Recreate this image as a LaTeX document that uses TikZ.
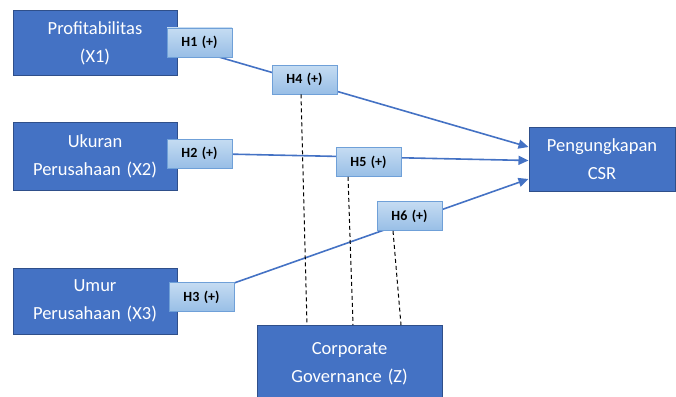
\documentclass[tikz,border=0pt]{standalone}
\usepackage{fontspec}
\setmainfont{Carlito}[WordSpace=1.4]
\usetikzlibrary{arrows.meta,calc}
\definecolor{boxblue}{HTML}{4472C4}
\definecolor{boxedge}{HTML}{2F4F8A}
\definecolor{hfillA}{HTML}{C5DCF2}
\definecolor{hfillB}{HTML}{98BEE6}
\definecolor{hedge}{HTML}{6FA0D8}
\begin{document}
\begin{tikzpicture}[x=1pt,y=-1pt,
 var/.style={draw=boxedge, fill=boxblue, line width=1pt, text=white,
   font=\fontsize{18.5}{28}\selectfont, align=center,
   minimum width=164pt, minimum height=65pt, inner sep=0pt},
 hyp/.style={draw=hedge, top color=hfillA, bottom color=hfillB, line width=0.8pt,
   font=\fontsize{14}{16}\selectfont\bfseries,
   minimum width=65pt, minimum height=29pt, inner sep=0pt},
 link/.style={draw=boxblue, line width=1.6pt},
 arr/.style={link, -{Triangle[length=10pt,width=9pt]}},
 moder/.style={line width=1pt, dash pattern=on 4pt off 3pt}
]
\useasboundingbox (0,0) rectangle (676,396);
% variable boxes
\node[var] (x1) at (95,43) {Profitabilitas\\(X1)};
\node[var, minimum height=68pt] (x2) at (95,156) {Ukuran\\Perusahaan (X2)};
\node[var, minimum height=66pt] (x3) at (95,301) {Umur\\Perusahaan (X3)};
\node[var, minimum width=146pt, minimum height=64pt] (y) at (602,159) {Pengungkapan\\CSR};
\node[var, minimum width=185pt, minimum height=76pt, anchor=north] (z) at (349.5,325) {Corporate\\Governance (Z)};
% connectors
\coordinate (t1) at ($(y.west)+(0,-12)$);
\coordinate (t2) at ($(y.west)+(0,1.5)$);
\coordinate (t3) at ($(y.west)+(0,20)$);
\draw[arr] ($(x1.east)+(0,2)$) -- (t1);
\draw[arr] ($(x2.east)+(0,-3)$) -- (t2);
\draw[arr] ($(x3.east)+(0,2)$) -- (t3);
% hypothesis labels
\node[hyp] (h1) at (199.5,42.5) {H1 (+)};
\node[hyp] (h2) at (199.5,153.5) {H2 (+)};
\node[hyp] (h3) at (201.5,297) {H3 (+)};
\node[hyp] (h4) at (304.5,79.5) {H4 (+)};
\node[hyp] (h5) at (368.5,162) {H5 (+)};
\node[hyp] (h6) at (409.5,216) {H6 (+)};
% moderation links
\draw[moder] ($(h4.south)+(-3.5,0)$) -- ($(z.north)+(-42.5,0)$);
\draw[moder] ($(h5.south)+(-20.5,0)$) -- ($(z.north)+(3.5,0)$);
\draw[moder] ($(h6.south)+(-16.5,0)$) -- ($(z.north)+(51.5,0)$);
\end{tikzpicture}
\end{document}
